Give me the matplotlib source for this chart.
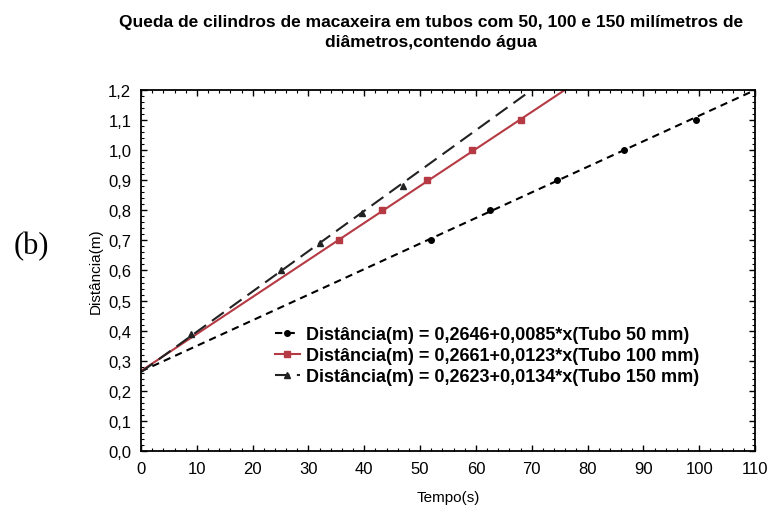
import numpy as np
import matplotlib
matplotlib.use("Agg")
import matplotlib.pyplot as plt
from matplotlib.ticker import MultipleLocator, FuncFormatter
from matplotlib.lines import Line2D

plt.rcParams['font.family'] = ['Liberation Sans', 'DejaVu Sans']

# Fitted models (intercept, slope)
labels = ["Distância(m) = 0,2646+0,0085*x(Tubo 50 mm)",
          "Distância(m) = 0,2661+0,0123*x(Tubo 100 mm)",
          "Distância(m) = 0,2623+0,0134*x(Tubo 150 mm)"]
intercepts = [0.2646, 0.2661, 0.2623]
slopes = [0.0085, 0.0123, 0.0134]

# Observed points
t50 = [52, 62.5, 74.5, 86.5, 99.5]
d50 = [0.70, 0.80, 0.90, 1.00, 1.10]
t100 = [35.5, 43.2, 51.2, 59.3, 68.0]
d100 = [0.70, 0.80, 0.90, 1.00, 1.10]
t150 = [9.0, 25.0, 32.0, 39.5, 47.0]
d150 = [0.39, 0.60, 0.69, 0.79, 0.88]

fig = plt.figure(figsize=(7.69, 5.06), dpi=100)
ax = fig.add_axes([0.1834, 0.1067, 0.7984, 0.7135])

xs = np.linspace(0, 110, 200)
colors = ["black", "#b53a44", "#222222"]
styles = [(0, (3.5, 2.5)), "-", (0, (7, 3.5))]
markers = ["o", "s", "^"]
pts = [(t50, d50), (t100, d100), (t150, d150)]
for i in range(3):
    ys = intercepts[i] + slopes[i] * xs
    ax.plot(xs, ys, color=colors[i], linestyle=styles[i], lw=1.5)
    ax.plot(pts[i][0], pts[i][1], linestyle="none", marker=markers[i],
            color=colors[i], ms=4)

handles = [Line2D([], [], color=colors[i], linestyle=styles[i], lw=1.5,
                  marker=markers[i], ms=4) for i in range(3)]
ax.legend(handles, labels, loc="upper left", bbox_to_anchor=(0.197, 0.38),
          frameon=False, handlelength=1.4, handletextpad=0.35,
          labelspacing=0.22, borderpad=0.2,
          prop={'weight': 'bold', 'size': 13})

ax.set_xlim(0, 110)
ax.set_ylim(0, 1.2)
ax.xaxis.set_major_locator(MultipleLocator(10))
ax.xaxis.set_minor_locator(MultipleLocator(2))
ax.yaxis.set_major_locator(MultipleLocator(0.1))
ax.yaxis.set_minor_locator(MultipleLocator(0.02))
ax.xaxis.set_major_formatter(FuncFormatter(lambda v, p: f"{v:.0f}"))
ax.yaxis.set_major_formatter(FuncFormatter(lambda v, p: f"{v:.1f}".replace(".", ",")))
ax.tick_params(which="both", direction="in", top=True, right=True, labelsize=12, pad=7)
ax.tick_params(which="major", length=4, width=1)
ax.tick_params(which="minor", length=2, width=0.8)
for s in ax.spines.values():
    s.set_linewidth(1.3)

ax.set_xlabel("Tempo(s)", fontsize=11, labelpad=10)
ax.set_ylabel("Distância(m)", fontsize=11, labelpad=4)

fig.text(0.561, 0.936, "Queda de cilindros de macaxeira em tubos com 50, 100 e 150 milímetros de\ndiâmetros,contendo água",
         ha="center", va="center", fontsize=12.5, fontweight="bold", linespacing=1.45)
fig.text(0.018, 0.513, "(b)", ha="left", va="center", fontsize=22,
         family=["Liberation Serif", "DejaVu Serif"])

fig.savefig("out.png", dpi=100)
